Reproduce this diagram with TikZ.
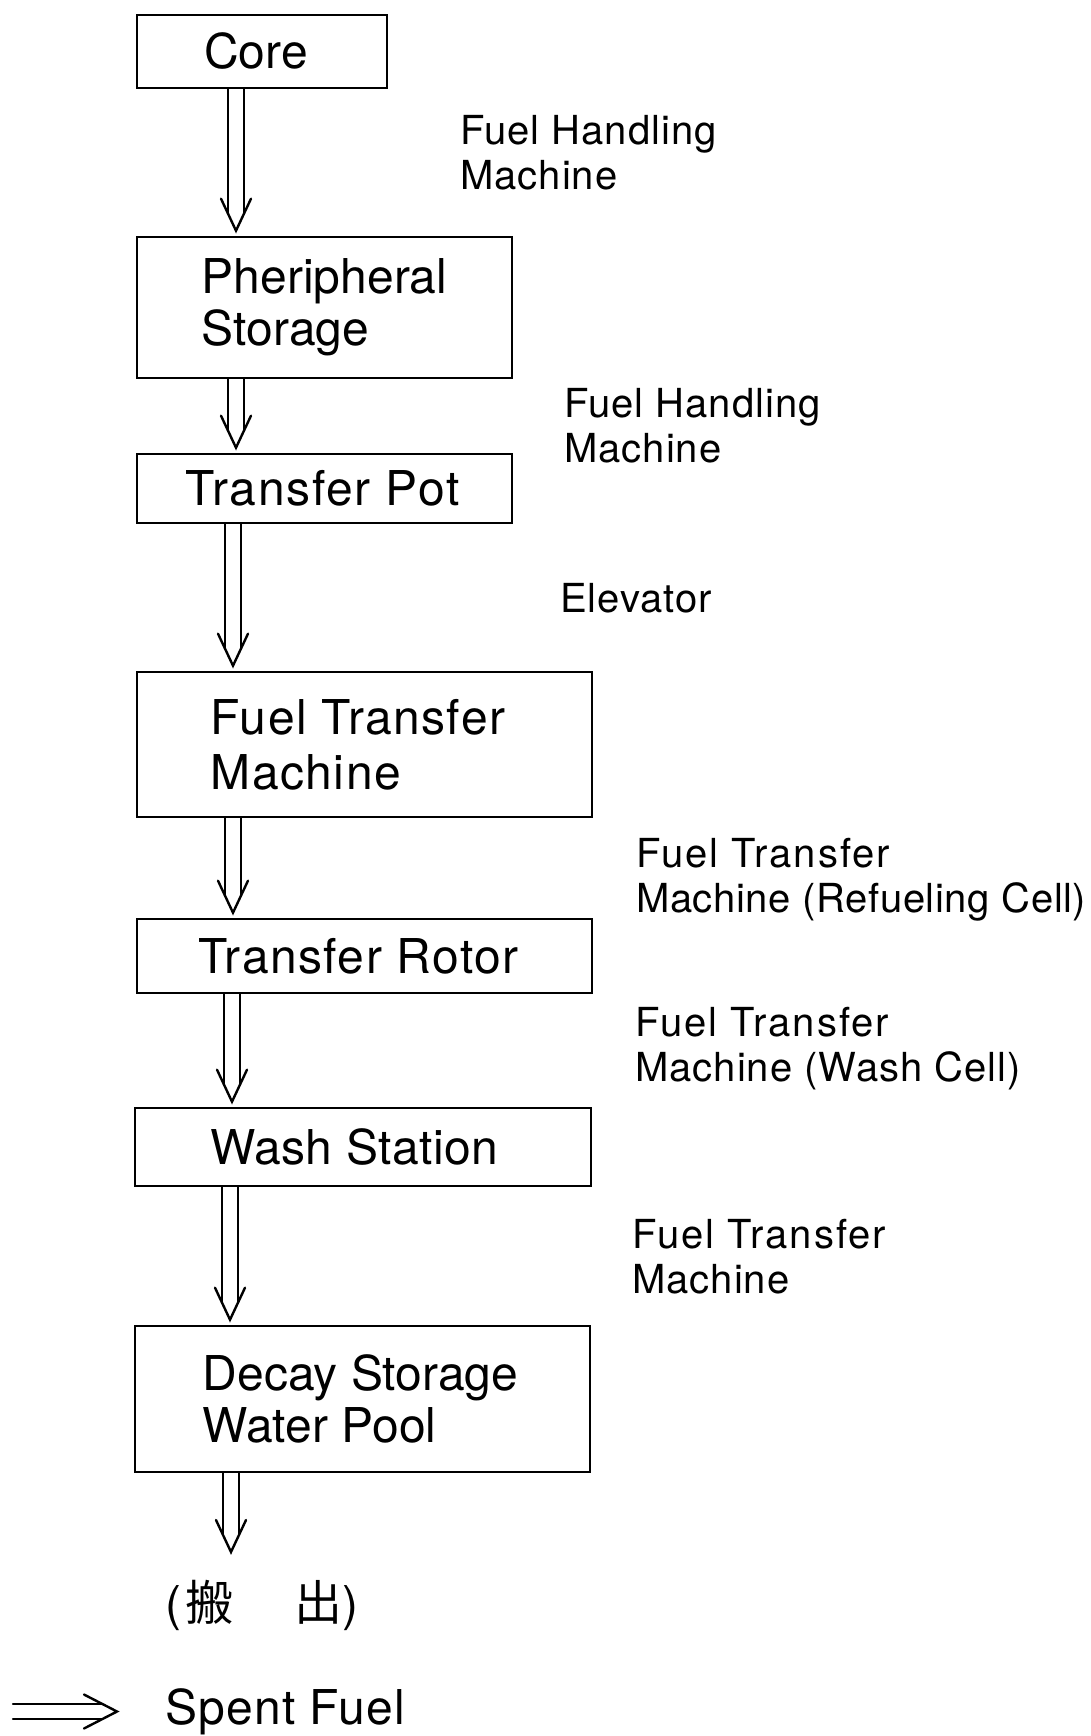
\documentclass[tikz,border=0pt]{standalone}
\usepackage{fontspec}
\setmainfont{TeX Gyre Heros}
\newfontfamily\cjk{Noto Sans CJK JP}
\newcommand\ls[1]{\addfontfeatures{LetterSpace=#1}}
\usetikzlibrary{calc}
\tikzset{
  box/.style={draw, line width=2.6pt, inner sep=0pt, align=left},
  boxfont/.style={font=\fontsize{48}{#1}\selectfont},
  lab/.style={anchor=north west, inner sep=0pt, align=left, font=\fontsize{40}{45}\selectfont\ls{2.5}},
  arr/.style={line width=2.4pt, line cap=round, line join=miter},
}
% #1 start point, #2 end point, #3 axis coordinate
\newcommand\sfarrow[3]{%
  \draw[arr] ($(#1 -| #3)+(-8,0)$) -- ($(#2 -| #3)+(-8,-22)$);
  \draw[arr] ($(#1 -| #3)+(8,0)$) -- ($(#2 -| #3)+(8,-22)$);
  \draw[arr] ($(#2 -| #3)+(-15,-37)$) -- ($(#2 -| #3)+(0,-5)$) -- ($(#2 -| #3)+(15,-37)$);
}
\begin{document}
\begin{tikzpicture}[x=1pt,y=-1pt]
\fill[white] (0,0) rectangle (1091,1736);
\useasboundingbox (0,0) rectangle (1091,1736);

% boxes
\node[box, boxfont=52, minimum width=250pt, minimum height=73pt] (core) at (262,51.5) {Core\hspace{12pt}};
\node[box, boxfont=52, minimum width=375pt, minimum height=141pt] (peri) at (324.5,307.5) {Pheripheral\\Storage};
\node[box, boxfont=52, minimum width=375pt, minimum height=69pt] (pot) at (324.5,488.5) {\ls{3.5}Transfer Pot\hspace{4pt}};
\node[box, boxfont=55, minimum width=455pt, minimum height=145pt] (ftm) at (364.5,744.5) {{\ls{3}Fuel Transfer}\kern13pt\\{\ls{3}Machine}};
\node[box, boxfont=52, minimum width=455pt, minimum height=74pt] (rotor) at (364.5,956) {\ls{3}Transfer Rotor\hspace{12pt}};
\node[box, boxfont=52, minimum width=456pt, minimum height=78pt] (wash) at (363,1147) {\ls{1}Wash Station\hspace{17pt}};
\node[box, boxfont=52, minimum width=455pt, minimum height=146pt] (decay) at (362.5,1399) {Decay Storage\kern4pt\\Water Pool};

% out
\node[anchor=base west, inner sep=0pt, font=\fontsize{48}{52}\selectfont] (out) at (165,1620)
  {(\hspace{4pt}{\cjk 搬}\hspace{61pt}{\cjk 出})};
\coordinate (outtop) at (231,1557);

% labels
\node[lab] (l1) at (460,115) {Fuel Handling\\Machine};
\node[lab] (l2) at (564,388) {Fuel Handling\\Machine};
\node[lab] (l3) at (560,583) {Elevator};
\node[lab] (l4) at (636,838) {{\ls{5}Fuel Transfer}\\{\ls{1.5}Machine (Refueling Cell)}};
\node[lab] (l5) at (635,1007) {{\ls{5}Fuel Transfer}\\{\ls{2.5}Machine (Wash Cell)}};
\node[lab] (l6) at (632,1219) {{\ls{5}Fuel Transfer}\\{\ls{2.5}Machine}};

% axes
\coordinate (a1) at (236,0);
\coordinate (a2) at (236,0);
\coordinate (a3) at (233,0);
\coordinate (a4) at (233,0);
\coordinate (a5) at (232,0);
\coordinate (a6) at (230,0);
\coordinate (a7) at (231,0);

\sfarrow{core.south}{peri.north}{a1}
\sfarrow{peri.south}{pot.north}{a2}
\sfarrow{pot.south}{ftm.north}{a3}
\sfarrow{ftm.south}{rotor.north}{a4}
\sfarrow{rotor.south}{wash.north}{a5}
\sfarrow{wash.south}{decay.north}{a6}
\sfarrow{decay.south}{outtop}{a7}

% legend
\coordinate (lgs) at (13,1711.5);
\coordinate (lge) at (117,1711.5);
\draw[arr] ($(lgs)+(0,-7.5)$) -- ($(lge)+(-15,-7.5)$);
\draw[arr] ($(lgs)+(0,7.5)$) -- ($(lge)+(-15,7.5)$);
\draw[arr] ($(lge)+(-33,-17)$) -- (lge) -- ($(lge)+(-33,17)$);
\node[anchor=base west, inner sep=0pt, font=\fontsize{48}{52}\selectfont\ls{2.5}] (legend) at (165,1724) {Spent Fuel};
\end{tikzpicture}
\end{document}
